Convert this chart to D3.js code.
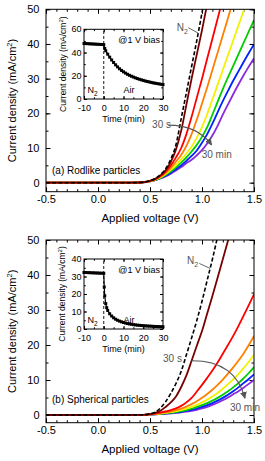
<!DOCTYPE html>
<html><head><meta charset="utf-8">
<script src="https://cdn.jsdelivr.net/npm/d3@7"></script>
<style>
body{margin:0;background:#fff}
svg{display:block;font-family:"Liberation Sans",Arial,sans-serif}
</style>
</head><body>
<svg id="c" width="265" height="461"></svg>
<script>
// ---------- DATA ----------
const voltage = [-0.5,0.3,0.4,0.45,0.5,0.55,0.6,0.65,0.7,0.75,0.8,0.85,0.9,0.95,1.0,1.05,1.1,1.15,1.2,1.25,1.3,1.35,1.4,1.45,1.5];
const seriesKeys = ["N2","30 s","air 2","air 3","air 4","air 5","air 6","30 min"];
const seriesColors = ["#000000","#7a0000","#ff0000","#ff8000","#f2f200","#00cc00","#0022ff","#8a2be2"];
const xTickLabels = [-0.5,0,0.5,1,1.5];
const yTickLabels = [0,10,20,30,40,50];

// (a) Rodlike particles
const topN2     = [0,0,0.05,0.2,0.6,1.2,2.3,4.0,6.8,11,18.5,26,33.5,41,49,57,null,null,null,null,null,null,null,null,null];
const topMaroon = [0,0,0.05,0.2,0.55,1.1,2.1,3.6,6.0,9.6,15,22.5,30,37,44,51.5,null,null,null,null,null,null,null,null,null];
const topRed    = [0,0,0.05,0.2,0.5,1.0,1.9,3.2,5.0,7.3,10,14,19,24.5,30,35.8,41.5,47.3,53,null,null,null,null,null,null];
const topOrange = [0,0,0.05,0.18,0.45,0.9,1.7,2.8,4.3,6.1,8.0,10.6,14.0,18.2,22.8,27.5,32.5,37.5,42.5,47.5,52.5,null,null,null,null];
const topYellow = [0,0,0.04,0.16,0.4,0.85,1.5,2.5,3.7,5.1,6.7,8.4,10.4,13,16,19.8,24,28.2,32.5,36.8,41,45.3,49.5,53.8,null];
const topGreen  = [0,0,0.04,0.15,0.4,0.8,1.4,2.2,3.2,4.4,5.8,7.3,9,10.9,13.2,16,19.6,23.3,27,30.4,33.7,37,40.3,43.6,46.9];
const topBlue   = [0,0,0.04,0.15,0.4,0.75,1.3,2.0,2.9,3.9,5.0,6.3,7.7,9.3,11.5,14,17,20.3,23.5,26.5,29.4,32.1,34.8,37.4,39.9];
const topViolet = [0,0,0.03,0.13,0.35,0.7,1.2,1.8,2.6,3.5,4.5,5.6,6.6,7.9,9.4,11.3,13.6,16.4,19.6,22.6,25.5,28.3,31,33.5,35.9];

// (b) Spherical particles
const botN2     = [0,0,0.02,0.1,0.3,0.8,2.0,3.8,6.2,9.0,12.5,17.2,22,27,32.5,38.5,44.5,51,null,null,null,null,null,null,null];
const botMaroon = [0,0,0.02,0.08,0.3,0.6,1.2,2.3,3.6,5.3,8.0,11.3,15.5,19.8,24,29,34,39.2,44.5,49.8,55,null,null,null,null];
const botRed    = [0,0,0.01,0.05,0.2,0.4,0.7,1.0,1.4,1.9,2.6,3.6,4.9,6.7,8.6,10.6,12.7,15,17.5,20,22.6,25.4,28.4,31.4,34.5];
const botOrange = [0,0,0.01,0.05,0.2,0.35,0.5,0.75,1.0,1.4,1.8,2.4,3.1,3.9,4.9,6.0,7.2,8.6,10.1,11.8,13.6,15.5,17.6,20,22.6];
const botYellow = [0,0,0.01,0.04,0.15,0.28,0.4,0.6,0.8,1.1,1.4,1.8,2.3,2.9,3.6,4.4,5.3,6.3,7.5,8.8,10.2,11.7,13.4,15.2,17.2];
const botGreen  = [0,0,0.01,0.04,0.15,0.25,0.35,0.5,0.65,0.85,1.1,1.4,1.8,2.3,2.8,3.4,4.1,4.9,5.8,6.8,7.9,9.1,10.5,12,13.7];
const botBlue   = [0,0,0.01,0.03,0.1,0.2,0.3,0.42,0.55,0.72,0.9,1.15,1.45,1.85,2.3,2.8,3.4,4.1,4.9,5.8,6.8,7.9,9.1,10.3,11.6];
const botViolet = [0,0,0.01,0.03,0.1,0.17,0.25,0.35,0.45,0.6,0.75,0.95,1.2,1.5,1.9,2.35,2.9,3.5,4.2,5.0,5.9,6.8,7.8,8.9,10];

// Insets: current density at 1 V bias vs time
const insetTimeTicks = [-10,0,10,20,30];
const insetTopTime    = [-10,-9,-8,-7,-6,-5,-4,-3,-2,-1,0,0.5,1,2,3,4,5,6,7,8,9,10,11,12,13,14,15,16,17,18,19,20,21,22,23,24,25,26,27,28,29,30];
const insetTopCurrent = [47.8,47.7,47.6,47.5,47.4,47.3,47.2,47.1,47.0,46.9,46.8,43.5,41.5,38.6,36.0,33.6,31.4,29.4,27.6,26.0,24.6,23.4,22.3,21.3,20.4,19.6,18.9,18.2,17.6,17.0,16.5,16.0,15.5,15.1,14.7,14.3,13.9,13.6,13.3,13.0,12.7,12.4];
const insetBotTime    = [-10,-9,-8,-7,-6,-5,-4,-3,-2,-1,0,0.25,0.5,1,1.5,2,3,4,5,6,7,8,9,10,11,12,13,14,15,16,17,18,19,20,21,22,23,24,25,26,27,28,29,30];
const insetBotCurrent = [32.3,32.3,32.2,32.2,32.1,32.1,32.0,32.0,31.9,31.9,31.8,24,19,14.5,12.2,10.6,8.7,7.4,6.4,5.6,5.0,4.5,4.1,3.7,3.4,3.1,2.9,2.7,2.5,2.35,2.2,2.1,2.0,1.9,1.8,1.7,1.65,1.6,1.5,1.45,1.4,1.35,1.3,1.25];

// ---------- DRAW ----------
const svg = d3.select("#c");
const defs = svg.append("defs");
defs.append("marker").attr("id","arr").attr("viewBox","0 0 10 10").attr("refX",9).attr("refY",5)
  .attr("markerWidth",7).attr("markerHeight",7).attr("markerUnits","userSpaceOnUse").attr("orient","auto")
  .append("path").attr("d","M0,0L10,5L0,10z").attr("fill","#555");

const fmt1 = d => d.toFixed(1).replace("\u2212","-");
const fmt0 = d => String(d);

function panel(o) {
  const x = d3.scaleLinear().domain([-0.5,1.5]).range([46,254]);
  const y = d3.scaleLinear().domain(o.yDomain).range([o.bottom,o.top]);
  const g = svg.append("g");
  const clipId = "clip"+o.id;
  defs.append("clipPath").attr("id",clipId).append("rect")
    .attr("x",46).attr("y",o.top).attr("width",208).attr("height",o.bottom-o.top);

  const minorX = d3.range(-0.5,1.5001,0.1).map(v=>+v.toFixed(2));
  const minorY = d3.range(0,50.001,5);
  const addAxis = (axis, tr) => {
    const a = g.append("g").attr("transform",tr).call(axis);
    a.select(".domain").remove();
    a.selectAll("line").attr("stroke","#000");
    return a;
  };
  addAxis(d3.axisBottom(x).tickValues(minorX).tickSize(-2.5).tickFormat(""), `translate(0,${o.bottom})`);
  addAxis(d3.axisTop(x).tickValues(minorX).tickSize(-2.5).tickFormat(""), `translate(0,${o.top})`);
  addAxis(d3.axisLeft(y).tickValues(minorY).tickSize(-2.5).tickFormat(""), `translate(46,0)`);
  addAxis(d3.axisRight(y).tickValues(minorY).tickSize(-2.5).tickFormat(""), `translate(254,0)`);
  const bx = addAxis(d3.axisBottom(x).tickValues(xTickLabels).tickSize(-4.5).tickPadding(4).tickFormat(fmt1), `translate(0,${o.bottom})`);
  addAxis(d3.axisTop(x).tickValues(xTickLabels).tickSize(-4.5).tickFormat(""), `translate(0,${o.top})`);
  const ly = addAxis(d3.axisLeft(y).tickValues(yTickLabels).tickSize(-4.5).tickPadding(6.5).tickFormat(fmt0), `translate(46,0)`);
  addAxis(d3.axisRight(y).tickValues(yTickLabels).tickSize(-4.5).tickFormat(""), `translate(254,0)`);
  [bx,ly].forEach(a=>a.selectAll("text").attr("font-size",11).attr("font-family","Liberation Sans, Arial, sans-serif").attr("fill","#000"));

  const line = d3.line().defined(d=>d[1]!=null).x(d=>x(d[0])).y(d=>y(d[1])).curve(d3.curveMonotoneX);
  const cg = g.append("g").attr("clip-path",`url(#${clipId})`);
  const order = [7,6,5,4,3,2,1,0];
  order.forEach(i=>{
    const pts = voltage.map((v,j)=>[v,o.series[i][j]]);
    cg.append("path").attr("d",line(pts)).attr("fill","none")
      .attr("stroke",seriesColors[i]).attr("stroke-width",i===0?1.6:1.8)
      .attr("stroke-dasharray",i===0?"4,2.2":null);
  });

  g.append("rect").attr("x",46).attr("y",o.top).attr("width",208).attr("height",o.bottom-o.top)
    .attr("fill","none").attr("stroke","#000").attr("stroke-width",1);

  g.append("text").attr("x",150).attr("y",o.bottom+30.5).attr("text-anchor","middle")
    .attr("font-size",11.5).text("Applied voltage (V)");
  const yt = g.append("text").attr("transform",`translate(16,${(o.top+o.bottom)/2}) rotate(-90)`)
    .attr("text-anchor","middle").attr("font-size",11);
  yt.append("tspan").text("Current density (mA/cm");
  yt.append("tspan").attr("font-size",7.5).attr("dy",-4).text("2");
  yt.append("tspan").attr("dy",4).text(")");

  g.append("text").attr("x",52).attr("y",y(o.labelJ)).attr("font-size",10).text(o.label);

  const gray = "#555";
  const n2 = g.append("text").attr("x",x(o.n2.V)).attr("y",y(o.n2.J)).attr("font-size",10).attr("fill",gray);
  n2.append("tspan").text("N");
  n2.append("tspan").attr("font-size",7).attr("dy",3).text("2");
  g.append("line").attr("x1",x(o.n2.l1[0])).attr("y1",y(o.n2.l1[1])).attr("x2",x(o.n2.l2[0])).attr("y2",y(o.n2.l2[1]))
    .attr("stroke",gray).attr("stroke-width",0.9);
  g.append("text").attr("x",x(o.s30.V)).attr("y",y(o.s30.J)).attr("font-size",10).attr("fill",gray).text("30 s");
  g.append("text").attr("x",x(o.m30.V)).attr("y",y(o.m30.J)).attr("font-size",10).attr("fill",gray).text("30 min");
  const a = o.arrow;
  g.append("path").attr("d",`M${x(a[0][0])},${y(a[0][1])}Q${x(a[1][0])},${y(a[1][1])} ${x(a[2][0])},${y(a[2][1])}`)
    .attr("fill","none").attr("stroke",gray).attr("stroke-width",1.2).attr("marker-end","url(#arr)");

  // inset
  const ins = o.inset;
  const ix = d3.scaleLinear().domain([-10,30]).range([84,163]);
  const iy = d3.scaleLinear().domain([0,ins.ymax]).range([ins.bottom,ins.top]);
  const ig = svg.append("g");
  ig.append("rect").attr("x",84).attr("y",ins.top).attr("width",79).attr("height",ins.bottom-ins.top).attr("fill","#fff");
  const addI = (axis,tr)=>{const s=ig.append("g").attr("transform",tr).call(axis); s.select(".domain").remove(); s.selectAll("line").attr("stroke","#000"); return s;};
  const ixMinor = d3.range(-10,30.01,5);
  const iyMinor = d3.range(0,ins.ymax+0.01,ins.minor);
  const iyMajor = d3.range(0,ins.ymax+0.01,ins.major);
  addI(d3.axisBottom(ix).tickValues(ixMinor).tickSize(-1.8).tickFormat(""),`translate(0,${ins.bottom})`);
  addI(d3.axisTop(ix).tickValues(ixMinor).tickSize(-1.8).tickFormat(""),`translate(0,${ins.top})`);
  addI(d3.axisLeft(iy).tickValues(iyMinor).tickSize(-1.8).tickFormat(""),`translate(84,0)`);
  addI(d3.axisRight(iy).tickValues(iyMinor).tickSize(-1.8).tickFormat(""),`translate(163,0)`);
  const ibx = addI(d3.axisBottom(ix).tickValues(insetTimeTicks).tickSize(-3).tickPadding(5.5).tickFormat(fmt0),`translate(0,${ins.bottom})`);
  addI(d3.axisTop(ix).tickValues(insetTimeTicks).tickSize(-3).tickFormat(""),`translate(0,${ins.top})`);
  const ily = addI(d3.axisLeft(iy).tickValues(iyMajor).tickSize(-3).tickPadding(2.5).tickFormat(fmt0),`translate(84,0)`);
  addI(d3.axisRight(iy).tickValues(iyMajor).tickSize(-3).tickFormat(""),`translate(163,0)`);
  [ibx,ily].forEach(s=>s.selectAll("text").attr("font-size",9).attr("font-family","Liberation Sans, Arial, sans-serif").attr("fill","#000"));
  ily.selectAll("text").attr("dy","0.28em");
  ig.append("line").attr("x1",ix(0)).attr("x2",ix(0)).attr("y1",iy(0)).attr("y2",iy(ins.ymax))
    .attr("stroke","#000").attr("stroke-width",0.9).attr("stroke-dasharray","3,2");
  const ipts = ins.time.map((t,j)=>[t,ins.current[j]]);
  ig.append("path").attr("d",d3.line().x(d=>ix(d[0])).y(d=>iy(d[1]))(ipts)).attr("fill","none").attr("stroke","#000").attr("stroke-width",1.2);
  ig.selectAll("rect.m").data(ipts).join("rect").attr("class","m")
    .attr("x",d=>ix(d[0])-1.5).attr("y",d=>iy(d[1])-1.5).attr("width",3).attr("height",3).attr("fill","#000");
  ig.append("rect").attr("x",84).attr("y",ins.top).attr("width",79).attr("height",ins.bottom-ins.top)
    .attr("fill","none").attr("stroke","#000").attr("stroke-width",1);
  ig.append("text").attr("y",ins.top+14).attr("x",ix(30)-3).attr("text-anchor","end").attr("font-size",9).text("@1 V bias");
  const in2 = ig.append("text").attr("x",ix(-8.2)).attr("y",ins.bottom-6).attr("font-size",9);
  in2.append("tspan").text("N");
  in2.append("tspan").attr("font-size",6.5).attr("dy",2.5).text("2");
  ig.append("text").attr("x",ix(10)).attr("y",ins.bottom-6).attr("font-size",9).text("Air");
  ig.append("text").attr("x",123.5).attr("y",ins.bottom+23).attr("text-anchor","middle").attr("font-size",9).text("Time (min)");
  const it = ig.append("text").attr("transform",`translate(${ins.titleX},${(ins.top+ins.bottom)/2}) rotate(-90)`)
    .attr("text-anchor","middle").attr("font-size",8.5);
  it.append("tspan").text("Current density (mA/cm");
  it.append("tspan").attr("font-size",6).attr("dy",-3).text("2");
  it.append("tspan").attr("dy",3).text(")");
}

panel({
  id:"a", top:9.3, bottom:191.7, yDomain:[-2.6,50], series:[topN2,topMaroon,topRed,topOrange,topYellow,topGreen,topBlue,topViolet],
  label:"(a) Rodlike particles", labelJ:2.6,
  n2:{V:0.757,J:43.6,l1:[0.869,44.7],l2:[0.965,43.1]},
  s30:{V:0.52,J:15.9}, m30:{V:0.997,J:7.1},
  arrow:[[0.676,16.6],[0.952,16.6],[1.093,10.9]],
  inset:{top:29.3,bottom:99,ymax:60,major:20,minor:10,time:insetTopTime,current:insetTopCurrent,titleX:66}
});
panel({
  id:"b", top:240, bottom:422.7, yDomain:[-2.2,50], series:[botN2,botMaroon,botRed,botOrange,botYellow,botGreen,botBlue,botViolet],
  label:"(b) Spherical particles", labelJ:3.4,
  n2:{V:0.856,J:43.1,l1:[0.974,43.3],l2:[1.077,41.9]},
  s30:{V:0.625,J:15.1}, m30:{V:1.269,J:1.1},
  arrow:[[0.9,15.5],[1.318,15.6],[1.413,4.8]],
  inset:{top:259,bottom:329,ymax:40,major:10,minor:5,time:insetBotTime,current:insetBotCurrent,titleX:65}
});
</script>
</body></html>
